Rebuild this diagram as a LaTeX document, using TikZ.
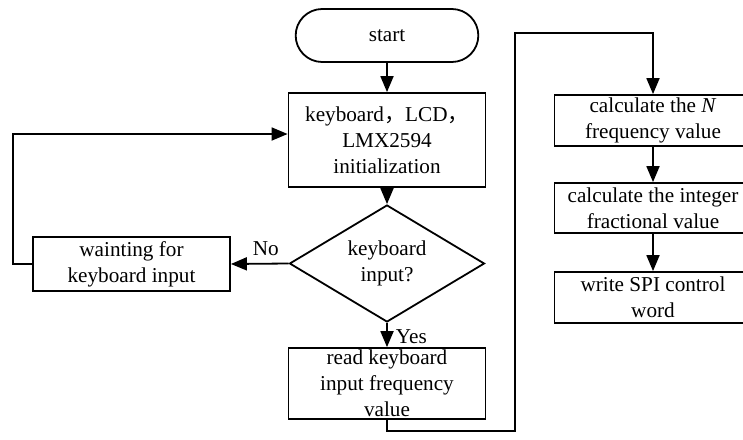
\documentclass[tikz,border=0pt]{standalone}
\usepackage{fontspec}
\setmainfont{Liberation Serif}
\newfontfamily\cjk{Noto Sans CJK SC}
\usetikzlibrary{shapes.geometric,shapes.misc,arrows.meta}

\begin{document}
\begin{tikzpicture}[x=.5pt, y=-.5pt, line width=.9pt, >={Triangle[length=8pt,width=6.5pt]},
    every node/.style={font=\fontsize{10.6}{13}\selectfont},
    box/.style={draw, rectangle, align=center, inner sep=1pt, minimum width=98.5pt}]
\useasboundingbox (0,0) rectangle (743,439);

% main column
\node[draw, rounded rectangle, minimum width=98pt, minimum height=26.5pt] (start) at (387,35.5) {start};
\node[box, minimum height=47pt] (init) at (387,140) {keyboard{\cjk，}LCD{\cjk，}\\LMX2594\\initialization};
\node[draw, diamond, aspect=1.67, align=center, inner sep=0pt, minimum width=97.5pt, minimum height=58.5pt] (ask) at (387,263.5) {keyboard\\input?};
\node[box, minimum height=33.5pt] (read) at (387,383.5) {read keyboard\\input frequency\\value};

% waiting loop on the left
\node[box, minimum height=27pt] (wait) at (131.5,264) {wainting for\\keyboard input};

% right column
\node[box, minimum height=25.5pt] (calcN) at (653,120.5) {calculate the \textit{N}\\frequency value};
\node[box, minimum height=25pt] (calcF) at (653,208) {calculate the integer\\fractional value};
\node[box, minimum height=25.5pt] (spi) at (653,297.5) {write SPI control\\word};
\coordinate (up) at (515,33);

\draw[->](start)--(init);
\draw[->](init)--(ask);
\draw[->](ask.west)--(wait.east)node[midway, above, xshift=3pt]{No};
\draw[->](wait.west)--++(-19,0)|-([yshift=3pt]init.west);
\draw[->](ask.south)--(read.north)node[pos=.55, right, inner sep=1pt, xshift=3pt]{Yes};
\draw[->](read.south)--++(0,11)-|(up)-|(calcN.north);
\draw[->](calcN)--(calcF);
\draw[->](calcF)--(spi);

\end{tikzpicture}
\end{document}
